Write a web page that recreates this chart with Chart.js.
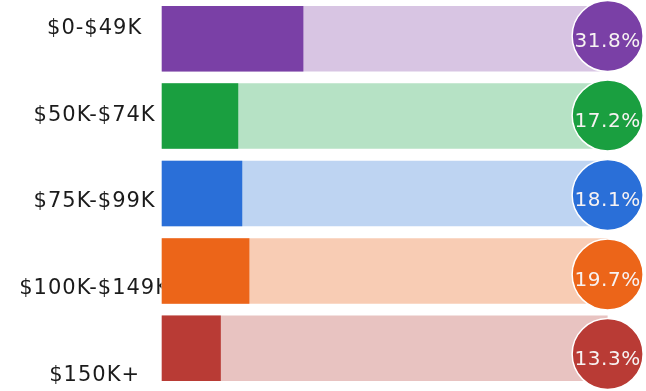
<!DOCTYPE html>
<html>
<head>
<meta charset="utf-8">
<title>Household income distribution</title>
<script src="https://cdn.jsdelivr.net/npm/chart.js@4/dist/chart.umd.min.js"></script>
<style>
  html, body { margin: 0; padding: 0; background: #ffffff; }
  #wrap { width: 646px; height: 391px; }
</style>
</head>
<body>
<div id="wrap"><canvas id="chart" width="646" height="391"></canvas></div>
<script>
// Income brackets and the share of households in each
const BRACKETS = ['$0-$49K', '$50K-$74K', '$75K-$99K', '$100K-$149K', '$150K+'];
const SHARES = [31.8, 17.2, 18.1, 19.7, 13.3];
// Full-length track behind each bar
const TRACK = [100, 100, 100, 100, 100];

const DARK = ['#7a40a6', '#1a9f40', '#2a6fd8', '#ec6519', '#b93b35'];
const LIGHT = ['#d8c5e3', '#b6e2c5', '#bed4f2', '#f8ccb4', '#e8c3c1'];

const FONT = 'DejaVu Sans';

// Slightly open tracking for all chart text
const tracking = {
  id: 'tracking',
  beforeLayout(chart) { chart.ctx.letterSpacing = '1px'; },
  beforeDraw(chart) { chart.ctx.letterSpacing = '1px'; }
};

// Writes the percentage inside each badge
const badgeText = {
  id: 'badgeText',
  afterDatasetsDraw(chart) {
    const meta = chart.getDatasetMeta(0);
    const ctx = chart.ctx;
    ctx.save();
    ctx.letterSpacing = '0.5px';
    ctx.font = '20px "' + FONT + '"';
    ctx.fillStyle = '#f7f2f2';
    ctx.textAlign = 'center';
    ctx.textBaseline = 'middle';
    meta.data.forEach((pt, i) => {
      ctx.fillText(SHARES[i].toFixed(1) + '%', pt.x, pt.y + 6);
    });
    ctx.restore();
  }
};

new Chart(document.getElementById('chart'), {
  type: 'bar',
  data: {
    labels: BRACKETS,
    datasets: [
      {
        type: 'scatter',
        label: 'badge',
        data: TRACK.map((t, i) => ({ x: t, y: i })),
        xAxisID: 'x',
        yAxisID: 'yc',
        pointRadius: 35.5,
        pointHoverRadius: 35.5,
        pointBackgroundColor: DARK,
        pointBorderColor: '#ffffff',
        pointBorderWidth: 1.5,
        clip: false,
        order: 0
      },
      {
        label: 'share',
        data: SHARES,
        backgroundColor: DARK,
        xAxisID: 'x',
        yAxisID: 'y',
        grouped: false,
        barPercentage: 0.846,
        categoryPercentage: 1,
        order: 1
      },
      {
        label: 'track',
        data: TRACK,
        backgroundColor: LIGHT,
        xAxisID: 'x',
        yAxisID: 'y',
        grouped: false,
        barPercentage: 0.846,
        categoryPercentage: 1,
        order: 2
      }
    ]
  },
  options: {
    indexAxis: 'y',
    responsive: false,
    animation: false,
    devicePixelRatio: 1,
    layout: { autoPadding: false, padding: { top: 0, bottom: 4, left: 0, right: 0 } },
    plugins: {
      legend: { display: false },
      tooltip: { enabled: false }
    },
    scales: {
      x: {
        type: 'linear',
        min: 0,
        max: 108.6,
        display: false
      },
      y: {
        type: 'category',
        display: false,
        offset: true
      },
      yl: {
        type: 'linear',
        position: 'left',
        reverse: true,
        offset: false,
        min: -0.326,
        max: 4.130,
        grid: { display: false, drawTicks: false, offset: false },
        border: { display: false },
        afterBuildTicks(axis) {
          axis.ticks = BRACKETS.map((_, i) => ({ value: i }));
        },
        afterFit(axis) {
          axis.width = 161.5;
          axis.paddingTop = 0;
          axis.paddingBottom = 0;
        },
        ticks: {
          autoSkip: false,
          crossAlign: 'center',
          padding: -8.5,
          color: '#1b1b1b',
          font: { family: FONT, size: 21 },
          callback: (v) => BRACKETS[v]
        }
      },
      yc: {
        type: 'linear',
        display: false,
        reverse: true,
        offset: false,
        min: -0.453,
        max: 4.415
      }
    }
  },
  plugins: [tracking, badgeText]
});
</script>
</body>
</html>
